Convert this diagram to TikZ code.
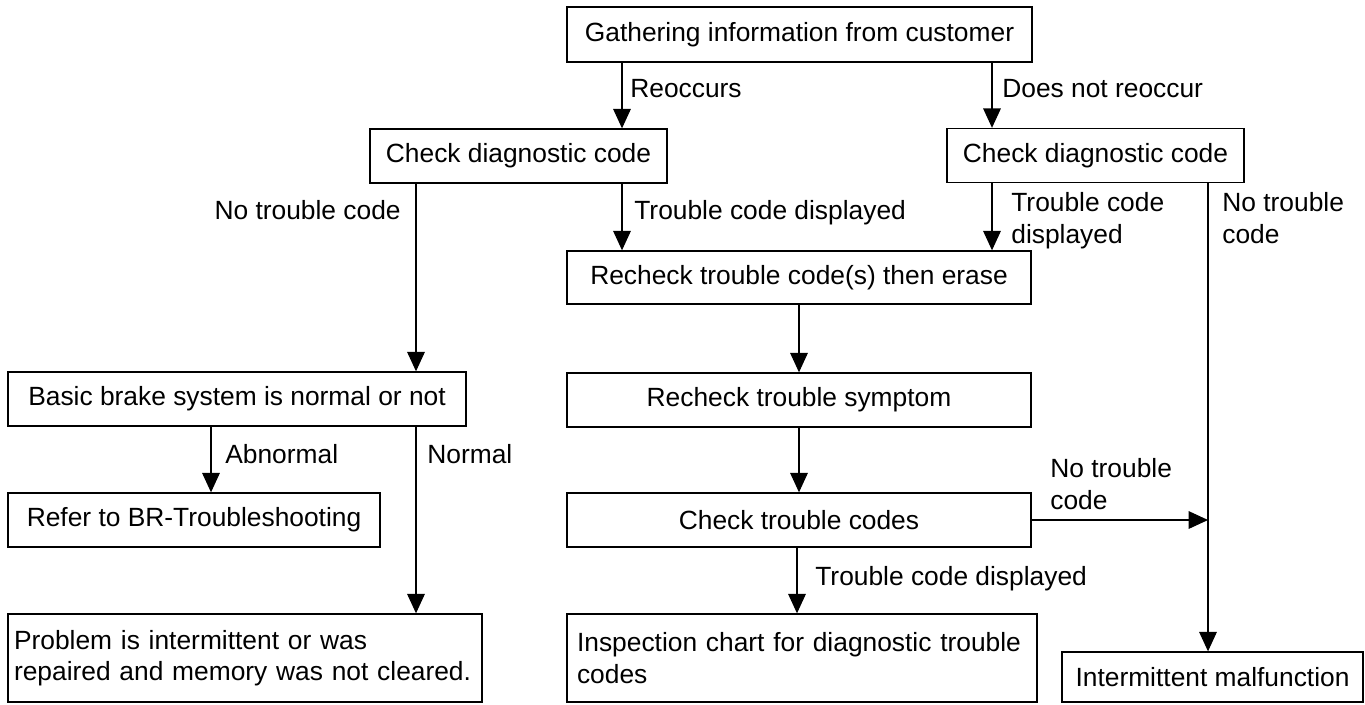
\documentclass[tikz,border=0pt]{standalone}
\usepackage{fontspec}
\setmainfont{Liberation Sans}
\usetikzlibrary{arrows.meta}

\begin{document}
\begin{tikzpicture}[x=0.02cm, y=-0.02cm, font=\fontsize{15}{18}\selectfont,
	box/.style 2 args={draw, line width=0.8pt, minimum width=#1*0.02cm, minimum height=#2*0.02cm, inner sep=0pt},
	arr/.style={line width=0.6pt, -{Triangle[length=11pt, width=10pt]}},
	lbl/.style={inner sep=0pt, align=left}]

	\useasboundingbox (0,0) rectangle (1365,704);

	% columns of the connectors
	\coordinate (colA) at (416,0);
	\coordinate (colB) at (622,0);
	\coordinate (colC) at (992,0);
	\coordinate (colD) at (1208,0);
	\coordinate (colE) at (797,0);
	\coordinate (colF) at (211,0);

	% boxes
	\node [box={465}{55}] (gather) at (799.5,34.5) {Gathering information from customer};
	\node [box={297}{54}] (chk1) at (518.5,156) {Check diagnostic code};
	\node [box={297}{54}] (chk2) at (1095.5,155.5) {Check diagnostic code};
	\node [box={464}{53}] (erase) at (799,277.5) {Recheck trouble code(s) then erase};
	\node [box={464}{54}] (symp) at (799,400) {Recheck trouble symptom};
	\node [box={464}{54}] (codes) at (799,520) {Check trouble codes};
	\node [box={470}{88}, align=left, text width=9.0cm, inner xsep=10*0.02cm] (insp) at (802,658) {Inspection chart for diagnostic trouble\\codes};
	\node [box={458}{54}] (basic) at (237,399) {Basic brake system is normal or not};
	\node [box={372}{54}] (refer) at (194,520) {Refer to BR-Troubleshooting};
	\node [box={474}{88}, align=left, text width=9.24cm, inner xsep=6*0.02cm] (prob) at (245,658) {Problem is intermittent or was\\repaired and memory was not cleared.};
	\node [box={301}{50}] (intm) at (1212.5,677) {Intermittent malfunction};

	% connectors
	\draw [arr] (gather.south -| colB) -- (chk1.north -| colB);
	\draw [arr] (gather.south -| colC) -- (chk2.north -| colC);
	\draw [arr] (chk1.south -| colA) -- (basic.north -| colA);
	\draw [arr] (chk1.south -| colB) -- (erase.north -| colB);
	\draw [arr] (chk2.south -| colC) -- (erase.north -| colC);
	\draw [arr] (chk2.south -| colD) -- (intm.north -| colD);
	\draw [arr] (erase.south) -- (symp.north);
	\draw [arr] (symp.south) -- (codes.north);
	\draw [arr] (codes.east) -- (codes.east -| colD);
	\draw [arr] (codes.south -| colE) -- (insp.north -| colE);
	\draw [arr] (basic.south -| colF) -- (refer.north -| colF);
	\draw [arr] (basic.south -| colA) -- (prob.north -| colA);

	% labels (base of the last line)
	\node [lbl, anchor=base west] (reocc) at (630,97.5) {Reoccurs};
	\node [lbl, anchor=base west] (noreocc) at (1002,97.5) {Does not reoccur};
	\node [lbl, anchor=base east] (nocodeA) at (401,219.5) {No trouble code};
	\node [lbl, anchor=base west] (dispA) at (634,219.5) {Trouble code displayed};
	\node [lbl, anchor=base west] (dispB) at (1011,243) {Trouble code\\displayed};
	\node [lbl, anchor=base west] (nocodeB) at (1222,243) {No trouble\\code};
	\node [lbl, anchor=base west] (abn) at (225,463) {Abnormal};
	\node [lbl, anchor=base west] (norm) at (427,463) {Normal};
	\node [lbl, anchor=base west] (nocodeC) at (1050,509) {No trouble\\code};
	\node [lbl, anchor=base west] (dispC) at (815,585) {Trouble code displayed};
\end{tikzpicture}
\end{document}
